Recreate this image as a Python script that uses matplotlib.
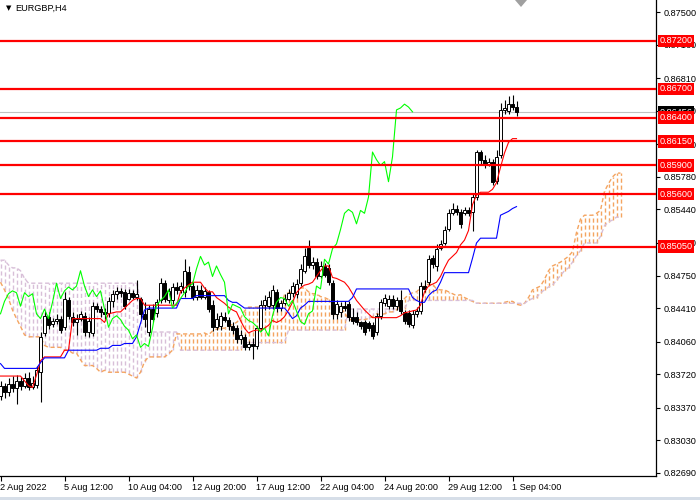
import numpy as np
import matplotlib
matplotlib.use('Agg')
import matplotlib.pyplot as plt
from matplotlib.patches import Polygon, Rectangle

plt.rcParams['font.family'] = ['Liberation Sans', 'DejaVu Sans']

symbol = 'EURGBP,H4'
date_label_bars = [0, 16, 32, 48, 64, 80, 96, 112, 128]
date_labels = ['2 Aug 2022', '5 Aug 12:00', '10 Aug 04:00', '12 Aug 20:00', '17 Aug 12:00',
               '22 Aug 04:00', '24 Aug 20:00', '29 Aug 12:00', '1 Sep 04:00']
price_ticks = [0.87500, 0.87160, 0.86810, 0.86470, 0.86120, 0.85780, 0.85440, 0.85090,
               0.84750, 0.84410, 0.84060, 0.83720, 0.83370, 0.83030, 0.82690]
level_lines = [0.87200, 0.86700, 0.86400, 0.86150, 0.85900, 0.85600, 0.85050]
last_price = 0.86456
chikou_shift = 26

open_ = [0.8349, 0.8360, 0.8353, 0.8362, 0.8358, 0.8365, 0.8360, 0.8368, 0.8359, 0.8361,
         0.8374, 0.8415, 0.8432, 0.8424, 0.8427, 0.8430, 0.8421, 0.8449, 0.8432, 0.8426,
         0.8430, 0.8433, 0.8416, 0.8415, 0.8443, 0.8440, 0.8437, 0.8436, 0.8448, 0.8456,
         0.8459, 0.8458, 0.8451, 0.8457, 0.8453, 0.8451, 0.8435, 0.8416, 0.8440, 0.8436,
         0.8449, 0.8467, 0.8449, 0.8449, 0.8463, 0.8460, 0.8458, 0.8479, 0.8464, 0.8453,
         0.8460, 0.8453, 0.8458, 0.8444, 0.8421, 0.8422, 0.8432, 0.8429, 0.8422, 0.8420,
         0.8409, 0.8411, 0.8400, 0.8404, 0.8401, 0.8420, 0.8444, 0.8443, 0.8444, 0.8458,
         0.8441, 0.8446, 0.8451, 0.8457, 0.8456, 0.8467, 0.8480, 0.8504, 0.8486, 0.8489,
         0.8474, 0.8485, 0.8483, 0.8467, 0.8435, 0.8437, 0.8443, 0.8445, 0.8432, 0.8432,
         0.8426, 0.8426, 0.8425, 0.8423, 0.8416, 0.8433, 0.8446, 0.8443, 0.8451, 0.8443,
         0.8449, 0.8437, 0.8436, 0.8423, 0.8435, 0.8438, 0.8464, 0.8468, 0.8493, 0.8485,
         0.8504, 0.8509, 0.8524, 0.8540, 0.8544, 0.8541, 0.8540, 0.8543, 0.8541, 0.8557,
         0.8604, 0.8596, 0.8591, 0.8594, 0.8574, 0.8601, 0.8648, 0.8647, 0.8654, 0.8651]
high = [0.8365, 0.8363, 0.8368, 0.8370, 0.8371, 0.8369, 0.8373, 0.8374, 0.8370, 0.8380,
        0.8416, 0.8438, 0.8437, 0.8431, 0.8435, 0.8433, 0.8458, 0.8453, 0.8437, 0.8435,
        0.8438, 0.8437, 0.8432, 0.8447, 0.8446, 0.8443, 0.8441, 0.8453, 0.8460, 0.8463,
        0.8462, 0.8461, 0.8461, 0.8460, 0.8470, 0.8453, 0.8447, 0.8444, 0.8445, 0.8451,
        0.8472, 0.8470, 0.8462, 0.8467, 0.8468, 0.8468, 0.8492, 0.8485, 0.8468, 0.8465,
        0.8465, 0.8463, 0.8460, 0.8449, 0.8436, 0.8437, 0.8437, 0.8432, 0.8426, 0.8423,
        0.8418, 0.8414, 0.8407, 0.8410, 0.8422, 0.8449, 0.8455, 0.8459, 0.8465, 0.8461,
        0.8449, 0.8456, 0.8461, 0.8468, 0.8471, 0.8487, 0.8504, 0.8512, 0.8494, 0.8493,
        0.8490, 0.8488, 0.8487, 0.8470, 0.8449, 0.8447, 0.8448, 0.8448, 0.8441, 0.8437,
        0.8428, 0.8429, 0.8428, 0.8426, 0.8436, 0.8451, 0.8456, 0.8455, 0.8455, 0.8453,
        0.8460, 0.8439, 0.8439, 0.8439, 0.8442, 0.8468, 0.8470, 0.8496, 0.8496, 0.8508,
        0.8512, 0.8527, 0.8545, 0.8551, 0.8549, 0.8545, 0.8547, 0.8547, 0.8561, 0.8606,
        0.8606, 0.8601, 0.8598, 0.8597, 0.8606, 0.8655, 0.8658, 0.8663, 0.8664, 0.8657]
low = [0.8345, 0.8347, 0.8349, 0.8353, 0.8341, 0.8355, 0.8357, 0.8355, 0.8356, 0.8357,
       0.8343, 0.8412, 0.8419, 0.8421, 0.8424, 0.8415, 0.8418, 0.8430, 0.8422, 0.8413,
       0.8428, 0.8412, 0.8411, 0.8412, 0.8437, 0.8432, 0.8430, 0.8432, 0.8442, 0.8450,
       0.8453, 0.8440, 0.8449, 0.8450, 0.8449, 0.8430, 0.8421, 0.8412, 0.8426, 0.8432,
       0.8446, 0.8447, 0.8446, 0.8445, 0.8456, 0.8457, 0.8453, 0.8460, 0.8449, 0.8449,
       0.8450, 0.8451, 0.8437, 0.8417, 0.8418, 0.8418, 0.8426, 0.8418, 0.8414, 0.8405,
       0.8403, 0.8397, 0.8397, 0.8388, 0.8398, 0.8417, 0.8439, 0.8440, 0.8440, 0.8437,
       0.8438, 0.8444, 0.8449, 0.8453, 0.8452, 0.8464, 0.8478, 0.8483, 0.8482, 0.8471,
       0.8472, 0.8473, 0.8465, 0.8430, 0.8430, 0.8432, 0.8438, 0.8428, 0.8424, 0.8423,
       0.8419, 0.8413, 0.8417, 0.8409, 0.8413, 0.8430, 0.8443, 0.8440, 0.8440, 0.8439,
       0.8435, 0.8424, 0.8421, 0.8420, 0.8432, 0.8435, 0.8458, 0.8465, 0.8483, 0.8480,
       0.8502, 0.8507, 0.8521, 0.8538, 0.8538, 0.8525, 0.8538, 0.8537, 0.8522, 0.8554,
       0.8590, 0.8587, 0.8589, 0.8570, 0.8571, 0.8598, 0.8644, 0.8644, 0.8648, 0.8642]
close = [0.8360, 0.8353, 0.8362, 0.8358, 0.8365, 0.8360, 0.8368, 0.8359, 0.8363, 0.8376,
         0.8411, 0.8433, 0.8423, 0.8428, 0.8430, 0.8418, 0.8451, 0.8433, 0.8426, 0.8430,
         0.8435, 0.8416, 0.8428, 0.8443, 0.8440, 0.8437, 0.8435, 0.8448, 0.8456, 0.8459,
         0.8457, 0.8443, 0.8457, 0.8453, 0.8456, 0.8435, 0.8430, 0.8440, 0.8430, 0.8447,
         0.8467, 0.8451, 0.8459, 0.8463, 0.8460, 0.8464, 0.8480, 0.8464, 0.8453, 0.8460,
         0.8453, 0.8459, 0.8440, 0.8421, 0.8430, 0.8433, 0.8429, 0.8422, 0.8418, 0.8409,
         0.8413, 0.8400, 0.8404, 0.8401, 0.8420, 0.8444, 0.8449, 0.8453, 0.8460, 0.8441,
         0.8446, 0.8451, 0.8457, 0.8464, 0.8466, 0.8482, 0.8495, 0.8486, 0.8489, 0.8474,
         0.8485, 0.8476, 0.8468, 0.8435, 0.8445, 0.8443, 0.8441, 0.8432, 0.8428, 0.8426,
         0.8422, 0.8416, 0.8420, 0.8412, 0.8433, 0.8447, 0.8452, 0.8451, 0.8443, 0.8449,
         0.8438, 0.8427, 0.8424, 0.8435, 0.8438, 0.8464, 0.8461, 0.8492, 0.8487, 0.8503,
         0.8508, 0.8523, 0.8540, 0.8544, 0.8541, 0.8529, 0.8543, 0.8540, 0.8557, 0.8604,
         0.8596, 0.8590, 0.8594, 0.8573, 0.8599, 0.8648, 0.8650, 0.8654, 0.8651, 0.8646]

tenkan = [0.8370, 0.8370, 0.8370, 0.8370, 0.8370, 0.8370, 0.8365, 0.8360, 0.8358, 0.8371,
          0.8386, 0.8390, 0.8390, 0.8390, 0.8390, 0.8390, 0.8397, 0.8397, 0.8430, 0.8430,
          0.8430, 0.8430, 0.8430, 0.8430, 0.8430, 0.8430, 0.8426, 0.8435, 0.8436, 0.8437,
          0.8437, 0.8441, 0.8445, 0.8449, 0.8451, 0.8451, 0.8444, 0.8444, 0.8444, 0.8444,
          0.8444, 0.8444, 0.8444, 0.8444, 0.8444, 0.8458, 0.8462, 0.8465, 0.8468, 0.8468,
          0.8468, 0.8462, 0.8458, 0.8458, 0.8452, 0.8449, 0.8446, 0.8442, 0.8439, 0.8437,
          0.8428, 0.8420, 0.8415, 0.8417, 0.8418, 0.8418, 0.8420, 0.8423, 0.8428, 0.8426,
          0.8428, 0.8432, 0.8439, 0.8447, 0.8457, 0.8462, 0.8465, 0.8466, 0.8468, 0.8474,
          0.8480, 0.8485, 0.8485, 0.8473, 0.8472, 0.8470, 0.8468, 0.8463, 0.8456, 0.8449,
          0.8444, 0.8439, 0.8435, 0.8431, 0.8431, 0.8431, 0.8431, 0.8431, 0.8431, 0.8431,
          0.8433, 0.8436, 0.8437, 0.8438, 0.8439, 0.8444, 0.8458, 0.8464, 0.8466, 0.8468,
          0.8474, 0.8483, 0.8491, 0.8495, 0.8499, 0.8507, 0.8512, 0.8522, 0.8549, 0.8559,
          0.8562, 0.8562, 0.8562, 0.8565, 0.8572, 0.8588, 0.8603, 0.8614, 0.8618, 0.8618]

kijun_levels = [0.8383, 0.8378, 0.8384, 0.8389, 0.8397, 0.8399, 0.8402, 0.8404, 0.8411, 0.8425,
                0.8439, 0.8441, 0.8451, 0.8454, 0.8449, 0.8447, 0.8444, 0.8441, 0.8436, 0.8430,
                0.8433, 0.8441, 0.8444, 0.8448, 0.8452, 0.8461, 0.8452, 0.8449, 0.8447, 0.8454,
                0.8458, 0.8460, 0.8468, 0.8478, 0.8493, 0.8509, 0.8514, 0.8538, 0.8540, 0.8542,
                0.8545, 0.8547]
kijun_bars = [1, 9, 1, 6, 8, 3, 3, 3, 1, 1,
              1, 8, 4, 8, 1, 2, 1, 11, 1, 1,
              1, 1, 1, 11, 1, 14, 1, 1, 2, 1,
              1, 1, 1, 7, 1, 1, 5, 1, 1, 1,
              1, 1]

span_a = [0.8468, 0.8460, 0.8451, 0.8439, 0.8430, 0.8422, 0.8413, 0.8411, 0.8411, 0.8411,
          0.8411, 0.8402, 0.8400, 0.8400, 0.8400, 0.8400, 0.8397, 0.8397, 0.8394, 0.8394,
          0.8387, 0.8381, 0.8381, 0.8381, 0.8378, 0.8374, 0.8376, 0.8374, 0.8374, 0.8374,
          0.8374, 0.8374, 0.8372, 0.8370, 0.8368, 0.8374, 0.8385, 0.8390, 0.8390, 0.8390,
          0.8390, 0.8390, 0.8393, 0.8397, 0.8414, 0.8414, 0.8414, 0.8414, 0.8414, 0.8414,
          0.8414, 0.8415, 0.8413, 0.8417, 0.8419, 0.8420, 0.8420, 0.8422, 0.8424, 0.8426,
          0.8430, 0.8438, 0.8442, 0.8442, 0.8442, 0.8442, 0.8442, 0.8442, 0.8442, 0.8442,
          0.8442, 0.8455, 0.8457, 0.8458, 0.8460, 0.8462, 0.8462, 0.8458, 0.8456, 0.8456,
          0.8453, 0.8452, 0.8450, 0.8446, 0.8443, 0.8442, 0.8436, 0.8430, 0.8428, 0.8428,
          0.8429, 0.8429, 0.8430, 0.8432, 0.8435, 0.8434, 0.8435, 0.8437, 0.8437, 0.8439,
          0.8445, 0.8451, 0.8455, 0.8457, 0.8458, 0.8462, 0.8464, 0.8466, 0.8466, 0.8461,
          0.8460, 0.8460, 0.8458, 0.8456, 0.8454, 0.8455, 0.8452, 0.8450, 0.8448, 0.8446,
          0.8446, 0.8446, 0.8446, 0.8446, 0.8446, 0.8446, 0.8447, 0.8448, 0.8448, 0.8445,
          0.8444, 0.8446, 0.8452, 0.8460, 0.8462, 0.8464, 0.8471, 0.8480, 0.8485, 0.8487,
          0.8489, 0.8492, 0.8495, 0.8500, 0.8520, 0.8534, 0.8538, 0.8538, 0.8538, 0.8540,
          0.8543, 0.8563, 0.8571, 0.8578, 0.8582, 0.8582]

span_b_levels = [0.8491, 0.8486, 0.8483, 0.8480, 0.8472, 0.8467, 0.8449, 0.8428, 0.8416, 0.8397,
                 0.8405, 0.8418, 0.8440, 0.8449, 0.8446, 0.8449, 0.8451, 0.8452, 0.8457, 0.8460,
                 0.8463, 0.8465, 0.8470, 0.8475, 0.8480, 0.8483, 0.8489, 0.8496, 0.8501, 0.8509,
                 0.8516, 0.8527, 0.8531, 0.8533, 0.8536]
span_b_bars = [2, 1, 2, 1, 1, 28, 1, 1, 8, 16,
               11, 15, 15, 17, 13, 1, 1, 1, 1, 1,
               1, 1, 1, 1, 1, 1, 1, 1, 1, 4,
               1, 1, 1, 1, 2]

# ---------------------------------------------------------------
o = np.array(open_); h = np.array(high); l = np.array(low); c = np.array(close)
n = len(c)
xb = np.arange(n)
ten = np.array(tenkan)
kij = np.repeat(kijun_levels, kijun_bars)
sa = np.array(span_a)
sb = np.repeat(span_b_levels, span_b_bars)
xc = np.arange(len(sa))

SANDY = '#F4A460'
THISTLE = '#D8BFD8'

fig = plt.figure(figsize=(7, 5), dpi=100)
fig.patch.set_facecolor('white')
ax = fig.add_axes([0, 24 / 500, 655.5 / 700, 476 / 500])
ax.set_facecolor('white')
ax.set_xlim(-0.125, 163.75)
ax.set_ylim(0.82656, 0.87628)

# Ichimoku cloud hatch
hatch_cols = [SANDY if a >= b else THISTLE for a, b in zip(sa, sb)]
ax.vlines(xc, np.minimum(sa, sb), np.maximum(sa, sb), colors=hatch_cols,
          linestyles=(0, (3, 2)), linewidth=1.0, zorder=1)
ax.plot(xc, sa, color=SANDY, ls=(0, (3, 2)), lw=1.0, zorder=1.2)
ax.plot(xc, sb, color=THISTLE, ls=(0, (3, 2)), lw=1.0, zorder=1.2)

# last price line
ax.axhline(last_price, color='#C0C0C0', lw=0.8, zorder=1.5)

# candles
ax.vlines(xb, l, h, color='black', lw=0.8, zorder=3)
fills = ['white' if cc >= oo else 'black' for oo, cc in zip(o, c)]
ax.bar(xb, np.abs(c - o), bottom=np.minimum(o, c), width=0.6, color=fills,
       edgecolor='black', linewidth=0.7, zorder=4)

# indicator lines
ax.plot(xb, ten, color='#FF0000', lw=0.8, zorder=5)
ax.plot(xb, kij, color='#0000FF', lw=0.8, zorder=5)
ax.plot(xb[:-chikou_shift], c[chikou_shift:], color='#00FF00', lw=0.8, zorder=5)

# horizontal levels
for lv in level_lines:
    ax.axhline(lv, color='#FF0000', lw=1.6, zorder=6)

# axes styling
for s in ['left', 'top']:
    ax.spines[s].set_visible(False)
for s in ['right', 'bottom']:
    ax.spines[s].set_color('black')
    ax.spines[s].set_linewidth(0.9)

ax.yaxis.tick_right()
ax.set_yticks(price_ticks)
ax.set_yticklabels([f'{v:.5f}' for v in price_ticks])
ax.tick_params(axis='y', direction='out', length=3, width=0.8, pad=2.5,
               labelsize=6.6, colors='black')
ax.set_xticks(date_label_bars)
ax.set_xticklabels(date_labels)
for lab in ax.get_xticklabels():
    lab.set_ha('left')
ax.tick_params(axis='x', direction='out', length=3.5, width=0.8, pad=1.5,
               labelsize=6.6, colors='black')

tr = ax.get_yaxis_transform()
xoff = 1 + 4 / 655.5
ax.text(xoff, last_price, f'{last_price:.5f}', transform=tr, va='center', ha='left',
        color='white', fontsize=6.6, zorder=7, clip_on=False,
        bbox=dict(boxstyle='square,pad=0.2', fc='black', ec='none'))
for lv in level_lines:
    ax.text(xoff, lv, f'{lv:.5f}', transform=tr, va='center', ha='left',
            color='white', fontsize=6.6, zorder=8, clip_on=False,
            bbox=dict(boxstyle='square,pad=0.2', fc='#FF0000', ec='none'))

# header
fig.text(6 / 700, 1 - 8 / 500, '\u25BC', fontsize=5, va='center', ha='left',
         family=['DejaVu Sans'])
fig.text(15 / 700, 1 - 8 / 500, symbol, fontsize=6.6, va='center', ha='left')
fig.patches.append(Polygon([[515 / 700, 1.0], [527 / 700, 1.0], [521 / 700, 1 - 7 / 500]],
                           closed=True, transform=fig.transFigure, fc='#A0A0A0', ec='none'))
fig.patches.append(Rectangle((0, 0), 1, 3 / 500, transform=fig.transFigure,
                             fc='#D6DEE8', ec='none'))

fig.savefig('out.png', dpi=100)
